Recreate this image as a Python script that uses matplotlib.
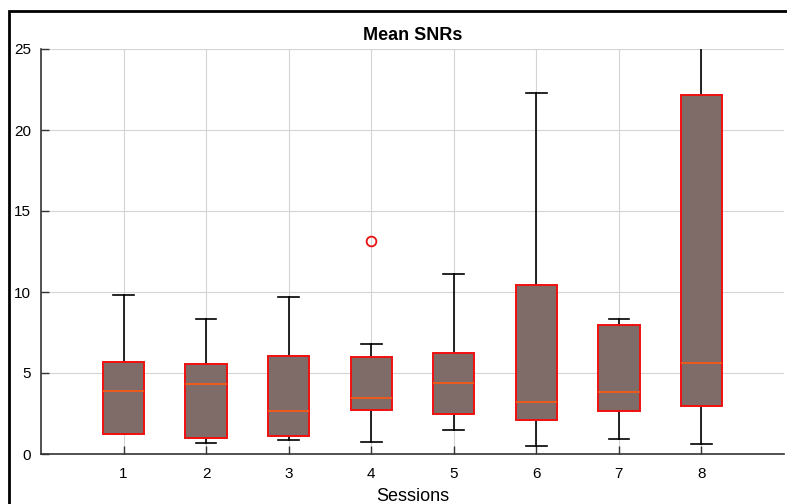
import matplotlib.pyplot as plt
from matplotlib.patches import Rectangle

plt.rcParams['font.family'] = ['Liberation Sans', 'DejaVu Sans']

# per-session box statistics (mean SNR)
sessions = [1, 2, 3, 4, 5, 6, 7, 8]
whisker_low = [1.21, 0.70, 0.85, 0.76, 1.48, 0.47, 0.93, 0.64]
q1 = [1.21, 1.01, 1.11, 2.74, 2.45, 2.10, 2.65, 2.98]
median = [3.91, 4.30, 2.65, 3.44, 4.36, 3.19, 3.81, 5.64]
q3 = [5.70, 5.53, 6.07, 6.01, 6.23, 10.45, 7.94, 22.16]
whisker_high = [9.81, 8.35, 9.67, 6.79, 11.09, 22.27, 8.33, 27.0]
outliers = [[], [], [], [13.15], [], [], [], []]

stats = []
for i in range(len(sessions)):
    stats.append(dict(whislo=whisker_low[i], q1=q1[i], med=median[i], q3=q3[i],
                      whishi=whisker_high[i], fliers=outliers[i], label=str(sessions[i])))

fig = plt.figure(figsize=(7.87, 5.04), dpi=100)
ax = fig.add_axes([41 / 787, 1 - 454 / 504, (784 - 41) / 787, (454 - 49) / 504])

ax.bxp(stats, positions=sessions, widths=0.5, patch_artist=True,
       boxprops=dict(facecolor='#7f6b67', edgecolor='#f01010', linewidth=1.4, zorder=3),
       medianprops=dict(color='#ee5a1c', linewidth=1.4, zorder=4),
       whiskerprops=dict(color='black', linewidth=1.2, zorder=2),
       capprops=dict(color='black', linewidth=1.2, zorder=2),
       flierprops=dict(marker='o', markerfacecolor='none', markeredgecolor='#e81010',
                       markersize=7, markeredgewidth=1.3))

ax.set_xlim(0, 9)
ax.set_ylim(0, 25)
ax.set_xticks(sessions)
ax.set_xticklabels([str(s) for s in sessions])
ax.set_yticks([0, 5, 10, 15, 20, 25])
ax.tick_params(direction='in', length=6, width=1, colors='#333333', labelcolor='black',
               labelsize=11)
ax.tick_params(axis='x', pad=9)
ax.tick_params(axis='y', pad=7)
ax.grid(True, color='#d4d4d4', linewidth=0.8)
ax.set_axisbelow(True)
for side in ['top', 'right']:
    ax.spines[side].set_visible(False)
for side in ['left', 'bottom']:
    ax.spines[side].set_color('#333333')
    ax.spines[side].set_linewidth(1.2)

ax.set_title('Mean SNRs', fontsize=13, fontweight='bold', pad=6.5)
ax.set_xlabel('Sessions', fontsize=13, va='baseline')
ax.xaxis.set_label_coords(0.5, (454 - 501) / (454 - 49))

# frame around the figure
fig.patches.append(Rectangle((9 / 787, -0.1), 1.1, 1 - 11 / 504 + 0.1,
                             transform=fig.transFigure, fill=False,
                             edgecolor='black', linewidth=2))

fig.savefig('out.png', dpi=100)
